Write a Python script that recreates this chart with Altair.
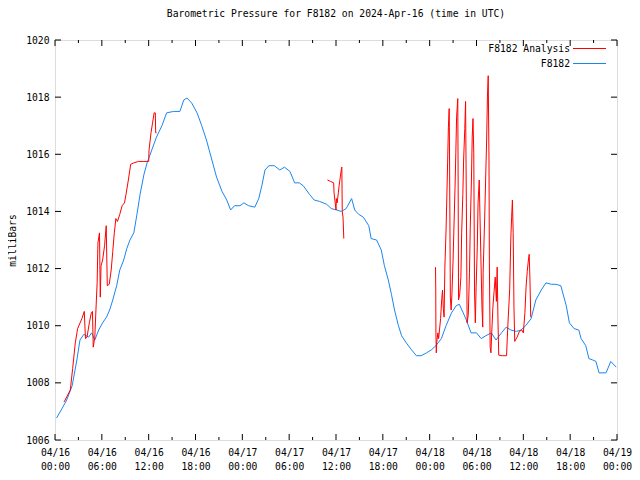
import altair as alt
import pandas as pd

# ---------------- data (hours since 2024-04-16 00:00 UTC, millibars) ----------------
blue_h = [0.2, 0.9, 1.5, 2.2, 2.8, 3.2, 3.7, 4.3, 4.7, 5.1, 5.6, 6.1, 6.6, 7.0, 7.4, 7.9,
          8.3, 8.8, 9.2, 9.6, 10.1, 10.5, 10.9, 11.4, 11.8, 12.4, 13.0, 13.7, 14.3, 15.2,
          16.0, 16.5, 16.9, 17.5, 18.2, 18.8, 19.4, 20.1, 20.7, 21.4, 22.0, 22.5, 23.0,
          23.7, 24.2, 24.8, 25.6, 26.1, 26.5, 26.9, 27.4, 28.1, 28.8, 29.4, 30.1, 30.7,
          31.3, 31.8, 32.6, 33.2, 33.9, 34.8, 35.4, 36.1, 36.7, 37.3, 38.0, 38.4, 38.9,
          39.5, 40.2, 40.5, 41.2, 41.8, 42.2, 42.7, 43.1, 43.5, 44.0, 44.4, 45.0, 45.7,
          46.3, 46.9, 47.6, 48.2, 48.8, 49.5, 50.1, 50.8, 51.4, 51.8, 52.3, 52.7, 53.3,
          54.0, 54.6, 55.2, 55.9, 56.5, 57.2, 57.8, 58.4, 59.1, 59.7, 60.3, 61.0, 61.6,
          62.3, 62.9, 63.6, 64.2, 64.8, 65.5, 65.9, 66.5, 67.1, 67.4, 68.0, 68.4, 68.9,
          69.3, 69.7, 70.6, 71.2, 71.9]
blue_v = [1006.77, 1007.1, 1007.4, 1007.9, 1008.8, 1009.5, 1009.7, 1009.6, 1009.75, 1009.5,
          1009.85, 1010.1, 1010.3, 1010.55, 1010.9, 1011.4, 1011.95, 1012.3, 1012.7, 1013.0,
          1013.25, 1013.9, 1014.6, 1015.3, 1015.7, 1016.15, 1016.6, 1017.0, 1017.45, 1017.5,
          1017.5, 1017.9, 1017.97, 1017.8, 1017.45, 1017.0, 1016.5, 1015.8, 1015.2, 1014.7,
          1014.4, 1014.05, 1014.2, 1014.2, 1014.3, 1014.2, 1014.15, 1014.45, 1014.9, 1015.45,
          1015.6, 1015.6, 1015.45, 1015.55, 1015.4, 1015.0, 1015.0, 1014.9, 1014.6, 1014.4,
          1014.35, 1014.25, 1014.1, 1014.05, 1014.0, 1014.1, 1014.45, 1014.05, 1013.9, 1013.8,
          1013.5, 1013.05, 1013.0, 1012.65, 1012.1, 1011.6, 1011.1, 1010.55, 1010.0, 1009.65,
          1009.4, 1009.15, 1008.95, 1008.95, 1009.05, 1009.15, 1009.3, 1009.55, 1010.0,
          1010.45, 1010.7, 1010.75, 1010.45, 1010.2, 1009.75, 1009.75, 1009.55, 1009.65,
          1009.75, 1009.5, 1009.75, 1009.95, 1009.85, 1009.8, 1009.85, 1010.0, 1010.25,
          1010.9, 1011.25, 1011.5, 1011.45, 1011.45, 1011.4, 1010.7, 1010.1, 1009.9, 1009.85,
          1009.55, 1009.3, 1008.85, 1008.8, 1008.75, 1008.35, 1008.35, 1008.75, 1008.55]

red1_h = [1.15, 1.3, 1.96, 2.26, 2.6, 2.9, 3.45, 3.75, 3.9, 4.1, 4.4, 4.65, 4.8, 4.9, 5.1,
          5.3, 5.4, 5.5, 5.7, 5.8, 5.9, 6.1, 6.35, 6.56, 6.7, 6.95, 7.2, 7.4, 7.6, 7.8, 8.0,
          8.3, 8.6, 8.9, 9.1, 9.4, 9.7, 10.1, 10.7, 11.3, 12.0, 12.05, 12.3, 12.5, 12.7,
          12.85, 12.9, 13.0]
red1_v = [1007.33, 1007.4, 1007.75, 1008.5, 1009.4, 1009.9, 1010.25, 1010.5, 1009.55,
          1009.6, 1010.1, 1010.45, 1010.5, 1009.25, 1009.6, 1010.9, 1011.5, 1012.9, 1013.25,
          1011.0, 1012.1, 1012.3, 1012.8, 1013.5, 1011.4, 1011.45, 1011.95, 1012.6, 1013.25,
          1013.75, 1013.65, 1013.9, 1014.2, 1014.3, 1014.6, 1015.1, 1015.65, 1015.7, 1015.75,
          1015.75, 1015.75, 1016.15, 1016.75, 1017.1, 1017.45, 1017.45, 1016.75, 1016.75]

red2_h = [34.9, 35.3, 35.7, 35.75, 36.0, 36.05, 36.15, 36.3, 36.4, 36.55, 36.7, 36.75, 36.8,
          36.9, 37.0]
red2_v = [1015.1, 1015.05, 1015.0, 1014.65, 1014.05, 1014.45, 1014.3, 1014.65, 1014.9,
          1015.2, 1015.5, 1015.55, 1014.0, 1013.8, 1013.05]

red3_h = [48.75, 48.78, 48.8, 48.85, 48.9, 49.05, 49.15, 49.4, 49.55, 49.65, 49.75, 49.85,
          49.95, 50.1, 50.2, 50.3, 50.4, 50.5, 50.55, 50.65, 50.75, 50.85, 51.0, 51.1, 51.25,
          51.35, 51.45, 51.6, 51.65, 51.7, 51.85, 52.0, 52.1, 52.25, 52.35, 52.5, 52.6, 52.7,
          52.8, 52.95, 53.1, 53.2, 53.35, 53.45, 53.55, 53.65, 53.75, 53.85, 53.95, 54.1,
          54.2, 54.35, 54.45, 54.55, 54.7, 54.8, 54.85, 55.05, 55.2, 55.3, 55.4, 55.5, 55.6,
          55.65, 55.75, 55.85, 55.95, 56.1, 56.25, 56.4, 56.55, 56.65, 56.75, 56.85, 57.3,
          57.85, 57.95, 58.05, 58.25, 58.4, 58.5, 58.6, 58.7, 58.8, 58.9, 59.2, 59.5, 59.8,
          60.0, 60.2, 60.35, 60.5, 60.65, 60.75, 60.85, 60.95]
red3_v = [1012.05, 1011.25, 1009.75, 1009.05, 1009.4, 1009.75, 1009.55, 1010.25, 1010.95,
          1011.25, 1010.6, 1010.3, 1012.05, 1013.35, 1014.5, 1015.7, 1016.95, 1017.6, 1015.8,
          1011.0, 1010.55, 1011.1, 1012.3, 1013.35, 1014.85, 1016.05, 1017.3, 1017.95,
          1014.85, 1010.9, 1011.1, 1011.7, 1013.25, 1014.6, 1015.8, 1016.9, 1017.85, 1014.3,
          1010.1, 1010.4, 1011.85, 1013.45, 1015.1, 1016.6, 1017.25, 1016.05, 1011.15,
          1010.1, 1011.35, 1012.75, 1014.3, 1015.1, 1013.8, 1012.55, 1010.65, 1009.95,
          1011.85, 1013.8, 1015.45, 1016.5, 1018.0, 1018.75, 1015.8, 1012.2, 1009.25,
          1009.05, 1009.75, 1010.65, 1011.2, 1011.7, 1010.85, 1012.05, 1010.2, 1008.97,
          1008.95, 1008.95, 1009.6, 1010.2, 1011.25, 1013.1, 1013.8, 1014.4, 1013.25,
          1010.65, 1009.45, 1009.6, 1009.8, 1009.85, 1009.75, 1010.45, 1011.35, 1011.9,
          1012.3, 1012.5, 1011.6, 1010.3]

series_names = ["F8182 Analysis", "F8182"]
series_colors = ["#ff0000", "#1a86f0"]
x_major = list(range(0, 73, 6))
x_minor = list(range(3, 72, 6))
y_ticks = list(range(1006, 1021, 2))

# ---------------- build table ----------------
rows = []
for h, v in zip(blue_h, blue_v):
    rows.append({"h": h, "v": v, "series": "F8182", "seg": "b"})
for name, hs, vs in [("r1", red1_h, red1_v), ("r2", red2_h, red2_v), ("r3", red3_h, red3_v)]:
    for h, v in zip(hs, vs):
        rows.append({"h": h, "v": v, "series": "F8182 Analysis", "seg": name})
df = pd.DataFrame(rows)

W, H = 562, 400
FONT = "DejaVu Sans Mono"
FS = 9.7

xscale = alt.Scale(domain=[0, 72], nice=False, zero=False)
yscale = alt.Scale(domain=[1006, 1020], nice=False, zero=False)
cscale = alt.Scale(domain=series_names, range=series_colors)

label_expr = ("['04/' + (16 + floor(datum.value / 24)), "
              "((datum.value % 24) < 10 ? '0' : '') + (datum.value % 24) + ':00']")

lines = alt.Chart(df).mark_line(strokeWidth=1, clip=True).encode(
    x=alt.X("h:Q", scale=xscale,
            axis=alt.Axis(values=x_major, labelExpr=label_expr, title=None, ticks=False,
                          tickSize=0, domain=False, grid=False, labelFont=FONT,
                          labelFontSize=FS, labelColor="black", labelPadding=7,
                          labelLineHeight=14, labelBaseline="top", labelFlush=False)),
    y=alt.Y("v:Q", scale=yscale,
            axis=alt.Axis(values=y_ticks, format="d", title="milliBars", ticks=False,
                          tickSize=0, domain=False, grid=False, labelFont=FONT,
                          labelFontSize=FS, labelColor="black", labelPadding=6,
                          titleFont=FONT, titleFontSize=FS, titleFontWeight="normal",
                          titleColor="black", titlePadding=8)),
    color=alt.Color("series:N", scale=cscale, legend=None),
    detail="seg:N",
    order="h:Q",
)

xmaj = pd.DataFrame({"h": x_major})
xmin = pd.DataFrame({"h": x_minor})
yt = pd.DataFrame({"v": y_ticks})

tick_layers = [
    alt.Chart(xmaj).mark_rule(color="black", strokeWidth=1).encode(
        x=alt.X("h:Q", scale=xscale), y=alt.value(H), y2=alt.value(H - 6)),
    alt.Chart(xmaj).mark_rule(color="black", strokeWidth=1).encode(
        x=alt.X("h:Q", scale=xscale), y=alt.value(0), y2=alt.value(6)),
    alt.Chart(xmin).mark_rule(color="black", strokeWidth=1).encode(
        x=alt.X("h:Q", scale=xscale), y=alt.value(H), y2=alt.value(H - 3)),
    alt.Chart(xmin).mark_rule(color="black", strokeWidth=1).encode(
        x=alt.X("h:Q", scale=xscale), y=alt.value(0), y2=alt.value(3)),
    alt.Chart(yt).mark_rule(color="black", strokeWidth=1).encode(
        y=alt.Y("v:Q", scale=yscale), x=alt.value(0), x2=alt.value(6)),
    alt.Chart(yt).mark_rule(color="black", strokeWidth=1).encode(
        y=alt.Y("v:Q", scale=yscale), x=alt.value(W), x2=alt.value(W - 6)),
]

leg = pd.DataFrame({"series": series_names, "row": [0, 1]})
legend_layers = []
for i, ypos in enumerate([8.5, 23.5]):
    base = alt.Chart(leg).transform_filter(alt.datum.row == i)
    legend_layers.append(
        base.mark_text(align="right", baseline="middle", font=FONT, fontSize=FS,
                       color="black").encode(text="series:N", x=alt.value(W - 47),
                                             y=alt.value(ypos)))
    legend_layers.append(
        base.mark_rule(strokeWidth=1.2).encode(
            x=alt.value(W - 44), x2=alt.value(W - 11), y=alt.value(ypos),
            color=alt.Color("series:N", scale=cscale, legend=None)))

chart = alt.layer(lines, *tick_layers, *legend_layers).properties(
    width=W, height=H,
    title=alt.TitleParams("Barometric Pressure for F8182 on 2024-Apr-16 (time in UTC)",
                          font=FONT, fontSize=FS, fontWeight="normal", color="black",
                          anchor="middle", offset=16),
    autosize=alt.AutoSizeParams(type="none"),
    padding={"left": 47, "top": 32, "right": 15, "bottom": 32},
).configure_view(stroke="black", strokeWidth=1).configure(background="white")

chart.save("out.html", embed_options={"renderer": "svg", "actions": False})
